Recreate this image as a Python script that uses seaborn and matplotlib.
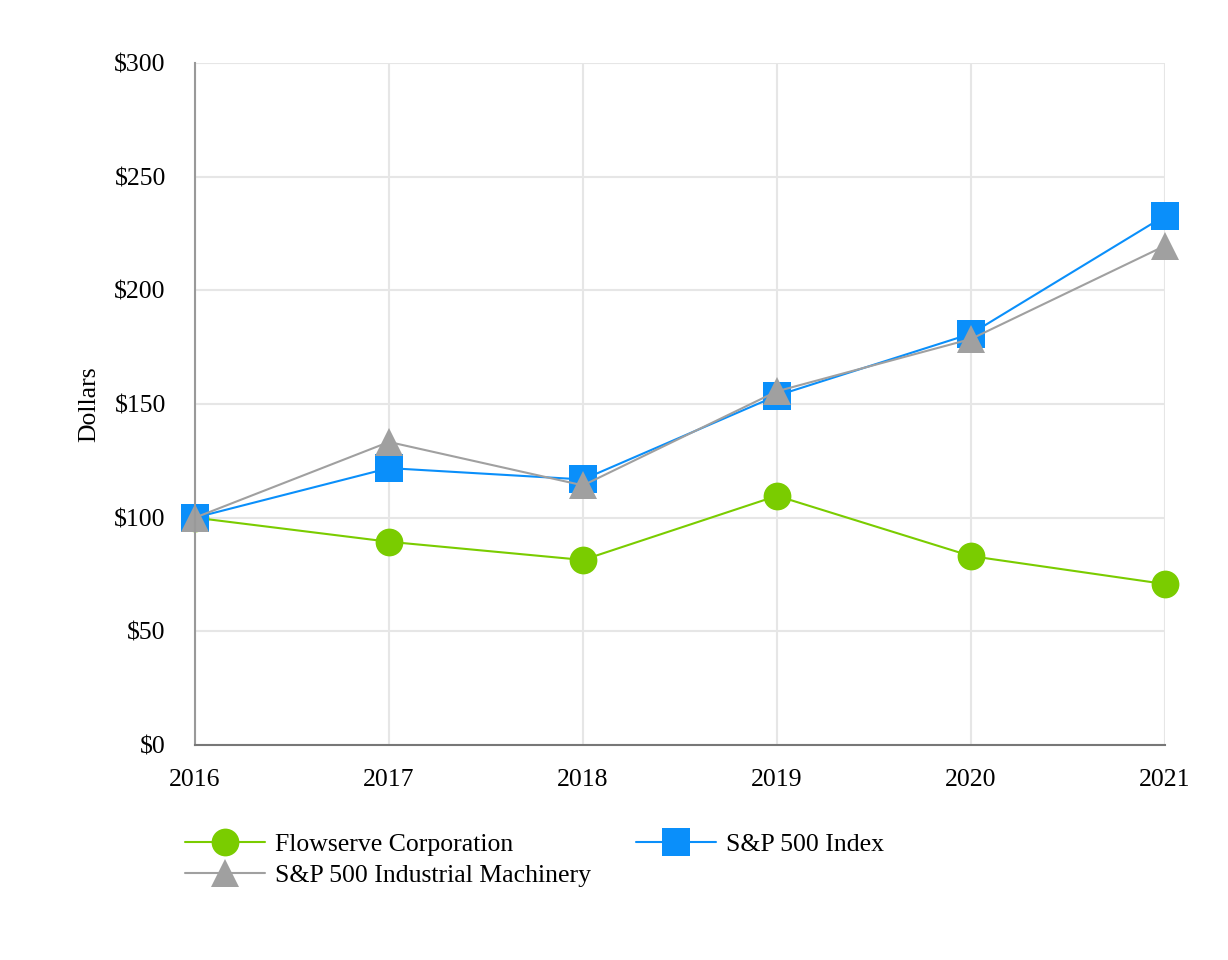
import matplotlib
matplotlib.use("Agg")
import matplotlib.pyplot as plt
import seaborn as sns
import pandas as pd
from matplotlib.lines import Line2D

years = [2016, 2017, 2018, 2019, 2020, 2021]
flowserve = [100, 89.4, 81.4, 109.6, 83.1, 70.8]
sp500 = [100, 121.8, 116.8, 153.7, 180.9, 232.8]
machinery = [100, 133.3, 114.2, 155.6, 178.6, 219.6]

series_names = ["Flowserve Corporation", "S&P 500 Index", "S&P 500 Industrial Machinery"]
series_values = [flowserve, sp500, machinery]
colors = ["#7ACC00", "#0A8FFA", "#A0A0A0"]
markers = ["o", "s", "^"]
y_ticks = [0, 50, 100, 150, 200, 250, 300]

df = pd.concat([pd.DataFrame({"Year": years, "Value": v, "Series": n})
                for n, v in zip(series_names, series_values)], ignore_index=True)

sns.set_theme(style="white")
plt.rcParams["font.family"] = ["Liberation Serif", "DejaVu Serif"]
plt.rcParams["text.color"] = "black"
plt.rcParams["axes.labelcolor"] = "black"
plt.rcParams["xtick.labelcolor"] = "black"
plt.rcParams["ytick.labelcolor"] = "black"
FS = 18.5

fig = plt.figure(figsize=(12.28, 9.6), dpi=100)
ax = fig.add_axes([195/1228, 1-745/960, (1165-195)/1228, (745-63)/960])

sns.lineplot(data=df, x="Year", y="Value", hue="Series", style="Series",
             hue_order=series_names, style_order=series_names,
             palette=dict(zip(series_names, colors)),
             markers=dict(zip(series_names, markers)), dashes=False,
             markersize=20, markeredgewidth=0, linewidth=1.5, ax=ax, legend=False)

ax.set_xlim(2016, 2021)
ax.set_ylim(0, 300)
ax.set_xticks(years)
ax.set_xticklabels([str(y) for y in years], fontsize=FS)
ax.set_yticks(y_ticks)
ax.set_yticklabels([f"${t}" for t in y_ticks], fontsize=FS)
ax.set_xlabel("")
ax.set_ylabel("Dollars", fontsize=FS, labelpad=10, color="black")
ax.grid(True, color="#E6E6E6", linewidth=1.5)
ax.set_axisbelow(True)
for s in ["top", "right"]:
    ax.spines[s].set_visible(False)
ax.spines["left"].set_color("#999999")
ax.spines["left"].set_linewidth(1.5)
ax.spines["bottom"].set_color("#777777")
ax.spines["bottom"].set_linewidth(1.5)
ax.tick_params(axis="y", direction="out", length=8, width=1.2, color="#999999", pad=13, labelcolor="black")
ax.tick_params(axis="x", direction="out", length=7, width=1.2, color="#999999", pad=10, labelcolor="black")
for c in ax.collections + ax.lines:
    c.set_clip_on(False)

handles = [Line2D([0], [0], color=c, marker=m, markersize=20, markeredgewidth=0, linewidth=1.5)
           for c, m in zip(colors, markers)]
order = [0, 2, 1]
leg = fig.legend([handles[i] for i in order], [series_names[i] for i in order],
                 loc="upper left", bbox_to_anchor=(185/1228, 1-833/960), ncol=2,
                 frameon=False, fontsize=FS, handlelength=3.1, handletextpad=0.4,
                 columnspacing=1.75, labelspacing=0.3, borderaxespad=0, borderpad=0,
                 labelcolor="black")

fig.savefig("out.png", dpi=100)
